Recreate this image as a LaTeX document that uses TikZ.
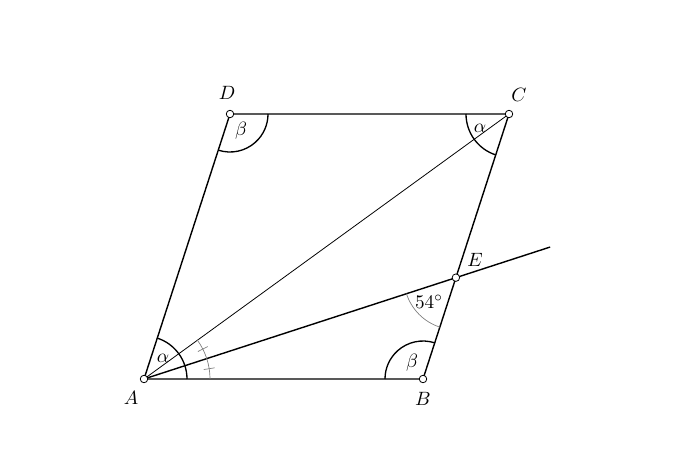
\documentclass[tikz,border=0pt]{standalone}
\begin{document}
\begin{tikzpicture}[
  font=\fontsize{11}{13}\selectfont,
  side/.style={line width=0.8pt},
  thin line/.style={line width=0.45pt},
  anglemark/.style={line width=0.75pt},
  softmark/.style={gray,line width=0.4pt},
  vertex/.style={circle,draw,fill=white,line width=0.45pt,inner sep=0pt,minimum size=0.15cm}]

\useasboundingbox (-2.88,-1.82) rectangle (10.72,7.58);

% Vertices of the parallelogram
\coordinate (A) at (0,0);
\coordinate (B) at (5.58,0);
\coordinate (C) at (7.30,5.30);
\coordinate (D) at (1.72,5.30);
\coordinate (F) at (18:8.54); % end of the ray through E
\coordinate (E) at (intersection of A--F and B--C);

% Sides and lines
 \draw[side] (A) -- (B) -- (C) -- (D) -- cycle;
 \draw[thin line] (A) -- (C);
 \draw[side] (A) -- (F);

% Angle marks
\draw[anglemark] ([shift={(0:0.86)}]A) arc[start angle=0, end angle=72, radius=0.86];
\draw[anglemark] ([shift={(180:0.86)}]C) arc[start angle=180, end angle=252, radius=0.86];
\draw[anglemark] ([shift={(72:0.76)}]B) arc[start angle=72, end angle=180, radius=0.76];
\draw[anglemark] ([shift={(252:0.76)}]D) arc[start angle=252, end angle=360, radius=0.76];
\draw[softmark] ([shift={(0:1.32)}]A) arc[start angle=0, end angle=36, radius=1.32];
\draw[softmark] ([shift={(198:1.04)}]E) arc[start angle=198, end angle=252, radius=1.04];
\draw[softmark] ([shift={(9:1.21)}]A) -- ([shift={(9:1.43)}]A);
\draw[softmark] ([shift={(27:1.21)}]A) -- ([shift={(27:1.43)}]A);

% Angle labels
\node (alphaA) at ([shift={(0.38,0.42)}]A) {$\alpha$};
\node (alphaC) at ([shift={(-0.58,-0.28)}]C) {$\alpha$};
\node (betaB) at ([shift={(-0.22,0.32)}]B) {$\beta$};
\node (betaD) at ([shift={(0.22,-0.34)}]D) {$\beta$};
\node (angE) at ([shift={(-0.54,-0.48)}]E) {$54^\circ$};

% Points and names
\node[vertex] (pA) at (A) {};
\node[vertex] (pB) at (B) {};
\node[vertex] (pC) at (C) {};
\node[vertex] (pD) at (D) {};
\node[vertex] (pE) at (E) {};
\node (lA) at ([shift={(-0.26,-0.38)}]A) {$A$};
\node (lB) at ([shift={(0,-0.40)}]B) {$B$};
\node (lC) at ([shift={(0.20,0.38)}]C) {$C$};
\node (lD) at ([shift={(-0.06,0.42)}]D) {$D$};
\node (lE) at ([shift={(0.38,0.36)}]E) {$E$};
\end{tikzpicture}
\end{document}
